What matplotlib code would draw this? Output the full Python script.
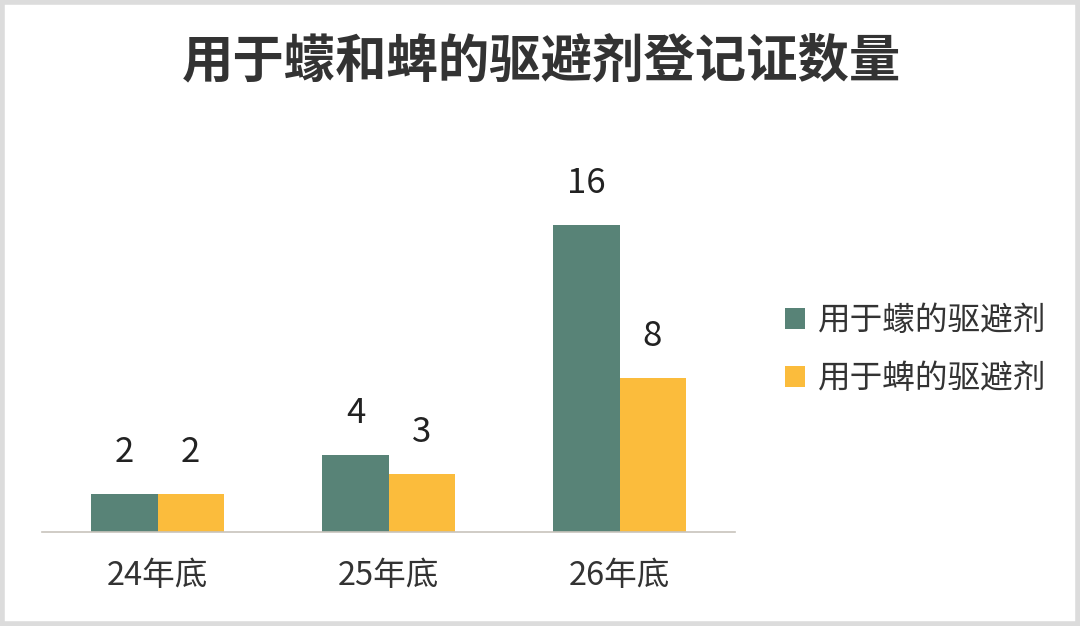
import matplotlib
matplotlib.use("Agg")
import matplotlib.pyplot as plt
from matplotlib.patches import Rectangle
import numpy as np

plt.rcParams['font.family'] = ['Noto Sans CJK SC', 'DejaVu Sans']

categories = ["24年底", "25年底", "26年底"]
series_names = ["用于蠓的驱避剂", "用于蜱的驱避剂"]
midge_values = [2, 4, 16]
tick_values = [2, 3, 8]
colors = ["#588377", "#FBBC3C"]

fig = plt.figure(figsize=(10.8, 6.26), dpi=100)
fig.patch.set_facecolor("white")
ax = fig.add_axes([42/1080, (626-532)/626, 693/1080, 384/626])

x = np.arange(len(categories))
w = 0.286
b1 = ax.bar(x - w/2, midge_values, w, color=colors[0], label=series_names[0])
b2 = ax.bar(x + w/2, tick_values, w, color=colors[1], label=series_names[1])

for bars, vals in ((b1, midge_values), (b2, tick_values)):
    for r, v in zip(bars, vals):
        ax.annotate(str(v), (r.get_x() + r.get_width()/2, v), xytext=(0, 23),
                    textcoords="offset points", ha="center", va="baseline",
                    fontsize=25, color="#222222")

ax.set_xlim(-0.5, 2.5)
ax.set_ylim(0, 20)
ax.set_xticks(x)
ax.set_xticklabels(categories, fontsize=23.5, color="#333333")
ax.tick_params(axis="x", length=0, pad=20)
ax.set_yticks([])
for s in ("left", "right", "top"):
    ax.spines[s].set_visible(False)
ax.spines["bottom"].set_color("#c8c4bc")
ax.spines["bottom"].set_linewidth(1.2)

fig.legend(handles=[b1, b2], labels=series_names, loc="center left",
           bbox_to_anchor=(785/1080, 1 - 350/626), frameon=False,
           borderaxespad=0, borderpad=0,
           fontsize=23.5, handlelength=0.62, handleheight=0.62,
           handletextpad=0.4, labelspacing=0.8, labelcolor="#333333")

fig.text(541/1080, 1 - 61/626, "用于蠓和蜱的驱避剂登记证数量", ha="center",
         va="center", fontsize=37, fontweight="heavy", color="#333333")

fig.patches.append(Rectangle((0.0015, 0.0025), 0.997, 0.995, transform=fig.transFigure,
                             fill=False, edgecolor="#dcdcdc", linewidth=4))

fig.savefig("out.png", dpi=100, facecolor="white")
